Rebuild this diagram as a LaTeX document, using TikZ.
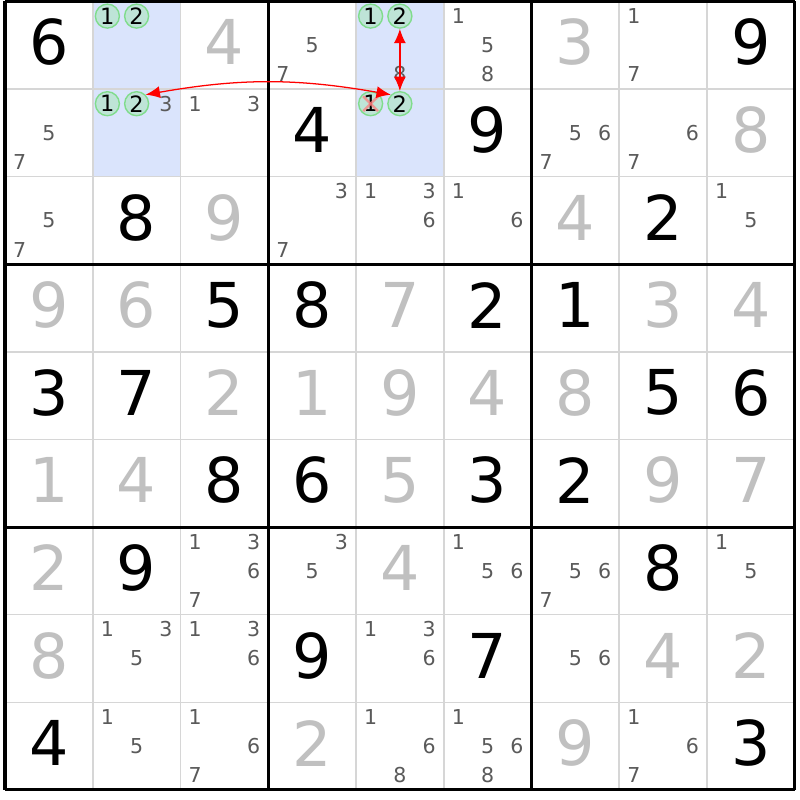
\documentclass[tikz,border=0pt]{standalone}
\usepackage{fontspec}
\setmainfont{DejaVu Sans}
\usetikzlibrary{arrows.meta}
\definecolor{solvedgray}{RGB}{192,192,192}
\definecolor{candgray}{RGB}{90,90,90}
\definecolor{hilite}{RGB}{218,228,252}
\definecolor{thingrid}{RGB}{214,214,214}
\definecolor{pickfill}{RGB}{190,228,215}
\definecolor{pickline}{RGB}{128,220,140}
\definecolor{crossred}{RGB}{255,120,120}

\begin{document}
\begin{tikzpicture}[
        x=2.19375cm, y=-2.19cm,
        given/.style={font={\fontsize{44}{44}\selectfont}, text=black, inner sep=0pt, yshift=0.075cm},
        solved/.style={given, text=solvedgray},
        cand/.style={font={\fontsize{14.6}{14.6}\selectfont}, text=candgray, inner sep=0pt},
        pick/.style={cand, font={\fontsize{16}{16}\selectfont}, text=black, circle,
                     draw=pickline, fill=pickfill, line width=1pt, minimum size=0.6cm},
        thingrid/.style={draw=thingrid, line width=1.1pt},
        box/.style={draw=black, line width=2.2pt},
        link/.style={red, line width=0.9pt, >={Latex[length=3.6mm,width=3mm]}},
        strike/.style={crossred, line width=1.8pt, opacity=0.7}
        ]

        % Page and highlighted columns
        \useasboundingbox (-0.057,-0.0171) rectangle (9.060,9.115);
        \fill[white] (-0.057,-0.0171) rectangle (9.060,9.115);
        \fill[hilite] (1,0) rectangle (2,2);
        \fill[hilite] (4,0) rectangle (5,2);

        % Grid
        \foreach \i in {1,...,8} {
            \draw[thingrid] (\i,0) -- (\i,9);
            \draw[thingrid] (0,\i) -- (9,\i);
        }
        \foreach \i in {0,3,6,9} {
            \draw[box] (\i,0) -- (\i,9);
            \draw[box] (0,\i) -- (9,\i);
        }

        % Given digits
        \foreach \r/\c/\d in {0/0/6,0/8/9,1/3/4,1/5/9,2/1/8,2/7/2,
                3/2/5,3/3/8,3/5/2,3/6/1,4/0/3,4/1/7,4/7/5,4/8/6,
                5/2/8,5/3/6,5/5/3,5/6/2,6/1/9,6/7/8,7/3/9,7/5/7,8/0/4,8/8/3}
            \node[given] (g\r\c) at (\c+0.5,\r+0.5) {\d};

        % Solved digits
        \foreach \r/\c/\d in {0/2/4,0/6/3,1/8/8,2/2/9,2/6/4,
                3/0/9,3/1/6,3/4/7,3/7/3,3/8/4,4/2/2,4/3/1,4/4/9,4/5/4,4/6/8,
                5/0/1,5/1/4,5/4/5,5/7/9,5/8/7,6/0/2,6/4/4,7/0/8,7/7/4,7/8/2,8/3/2,8/6/9}
            \node[solved] (s\r\c) at (\c+0.5,\r+0.5) {\d};

        % Candidates
        \foreach \r/\c/\k [evaluate=\k as \dx using {mod(\k-1,3)-1},
                           evaluate=\k as \dy using {int((\k-1)/3)-1}] in {
                0/3/5,0/3/7,0/4/8,0/5/1,0/5/5,0/5/8,0/7/1,0/7/7,
                1/0/5,1/0/7,1/1/3,1/2/1,1/2/3,1/6/5,1/6/6,1/6/7,1/7/6,1/7/7,
                2/0/5,2/0/7,2/3/3,2/3/7,2/4/1,2/4/3,2/4/6,2/5/1,2/5/6,2/8/1,2/8/5,
                6/2/1,6/2/3,6/2/6,6/2/7,6/3/3,6/3/5,6/5/1,6/5/5,6/5/6,6/6/5,6/6/6,6/6/7,6/8/1,6/8/5,
                7/1/1,7/1/3,7/1/5,7/2/1,7/2/3,7/2/6,7/4/1,7/4/3,7/4/6,7/6/5,7/6/6,
                8/1/1,8/1/5,8/2/1,8/2/6,8/2/7,8/4/1,8/4/6,8/4/8,8/5/1,8/5/5,8/5/6,8/5/8,
                8/7/1,8/7/6,8/7/7}
            \node[cand] (n\r\c\k) at (\c+0.5+\dx/3,\r+0.5+\dy/3) {\k};

        % Circled candidates
        \foreach \r/\c/\k [evaluate=\k as \dx using {mod(\k-1,3)-1}] in {
                0/1/1,0/1/2,1/1/1,1/1/2,0/4/1,0/4/2,1/4/1,1/4/2}
            \node[pick] (n\r\c\k) at (\c+0.5+\dx/3,\r+0.5-1/3) {\k};

        % Eliminated candidate
        \draw[strike] ([shift={(-0.085,-0.085)}]n141.center) -- ([shift={(0.085,0.085)}]n141.center);
        \draw[strike] ([shift={(-0.085,0.085)}]n141.center) -- ([shift={(0.085,-0.085)}]n141.center);

        % Links
        \draw[link,<->] (n042) -- (n142);
        \draw[link,<->] (n142.north west) to[bend right=10] (n112.north east);
    \end{tikzpicture}
\end{document}
